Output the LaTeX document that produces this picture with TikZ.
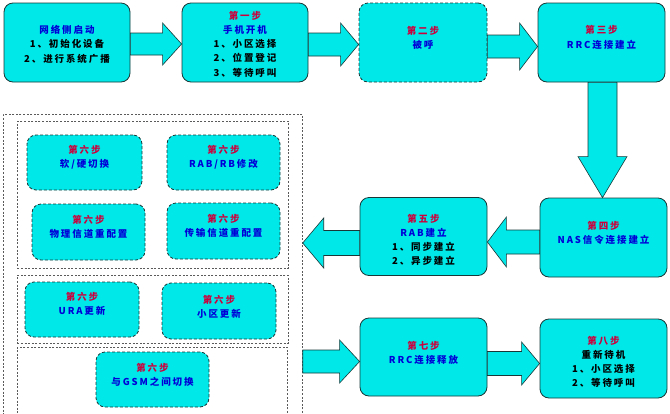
\documentclass[tikz,border=0pt]{standalone}
\usepackage{fontspec}
\usetikzlibrary{calc}
\newfontfamily\cjkf{Noto Sans CJK SC}[LetterSpace=20]
\definecolor{stepred}{RGB}{204,0,60}
\definecolor{titleblue}{RGB}{0,0,215}
\definecolor{cyanf}{RGB}{0,232,232}
\definecolor{bordc}{RGB}{25,55,55}
\definecolor{grpc}{RGB}{90,90,90}
\tikzset{
  mainbox/.style={draw=bordc, line width=0.8pt, fill=cyanf, rounded corners=9pt, inner sep=0pt},
  dashbox/.style={mainbox, dash pattern=on 3pt off 2pt},
  grpbox/.style={draw=grpc, line width=0.7pt, dash pattern=on 2pt off 1.6pt, inner sep=0pt},
  blockarrow/.style={draw=bordc, line width=0.6pt, fill=cyanf, line join=miter},
  txt/.style={align=center, font=\cjkf\bfseries\fontsize{9.5}{14.2}\selectfont, inner sep=0pt},
}
\newcommand{\rblk}[5]{%
  \draw[blockarrow] ($(#1)+(0,-#3)$) -- ($(#2)+(-#5,-#3)$) -- ($(#2)+(-#5,-#4)$) -- (#2)
    -- ($(#2)+(-#5,#4)$) -- ($(#2)+(-#5,#3)$) -- ($(#1)+(0,#3)$) -- cycle;}
\newcommand{\lblk}[5]{%
  \draw[blockarrow] ($(#1)+(0,-#3)$) -- ($(#2)+(#5,-#3)$) -- ($(#2)+(#5,-#4)$) -- (#2)
    -- ($(#2)+(#5,#4)$) -- ($(#2)+(#5,#3)$) -- ($(#1)+(0,#3)$) -- cycle;}
\newcommand{\dblk}[5]{%
  \draw[blockarrow] ($(#1)+(-#3,0)$) -- ($(#2)+(-#3,-#5)$) -- ($(#2)+(-#4,-#5)$) -- (#2)
    -- ($(#2)+(#4,-#5)$) -- ($(#2)+(#3,-#5)$) -- ($(#1)+(#3,0)$) -- cycle;}
\newcommand{\sr}[1]{\textcolor{stepred}{#1}}
\newcommand{\tb}[1]{\textcolor{titleblue}{#1}}
\begin{document}
\begin{tikzpicture}[x=1pt,y=-1pt]
\useasboundingbox[fill=white] (0,0) rectangle (670,413);

% group frames
\node[grpbox, minimum width=299pt, minimum height=320pt, anchor=north west] (grp) at (3,114) {};
\node[grpbox, minimum width=271pt, minimum height=147pt, anchor=north west] (g1) at (17,121) {};
\node[grpbox, minimum width=271pt, minimum height=68pt, anchor=north west] (g2) at (17,275) {};
\node[grpbox, minimum width=270pt, minimum height=80pt, anchor=north west] (g3) at (17,347) {};

% main boxes
\node[mainbox, minimum width=126pt, minimum height=79pt] (A) at (67,42.5) {};
\node[mainbox, minimum width=126pt, minimum height=79pt] (B) at (245,42.5) {};
\node[dashbox, minimum width=128pt, minimum height=79pt] (C) at (423,42.5) {};
\node[mainbox, minimum width=127pt, minimum height=79pt] (D) at (601.5,42.5) {};
\node[mainbox, minimum width=127pt, minimum height=79pt] (E) at (603.5,237.5) {};
\node[mainbox, minimum width=127pt, minimum height=78pt] (F) at (423.5,236.5) {};
\node[mainbox, minimum width=127pt, minimum height=78pt] (G) at (423.5,357) {};
\node[mainbox, minimum width=127pt, minimum height=79pt] (H) at (603.5,358.5) {};

% step-6 boxes
\node[dashbox, minimum width=115pt, minimum height=55pt] (s1) at (84.5,162.5) {};
\node[dashbox, minimum width=113pt, minimum height=55pt] (s2) at (223.5,162.5) {};
\node[dashbox, minimum width=113pt, minimum height=56pt] (s3) at (88.5,232) {};
\node[dashbox, minimum width=113pt, minimum height=56pt] (s4) at (223.5,231) {};
\node[dashbox, minimum width=114pt, minimum height=55pt] (s5) at (82,309.5) {};
\node[dashbox, minimum width=114pt, minimum height=56pt] (s6) at (219,311) {};
\node[dashbox, minimum width=113pt, minimum height=55pt] (s7) at (152.5,379.5) {};

% texts
\node[txt] (At) at (67,44.3) {\tb{网络侧启动}\\1、初始化设备\\2、进行系统广播};
\node[txt] (Bt) at (245,44) {\sr{第一步}\\\tb{手机开机}\\1、小区选择\\2、位置登记\\3、等待呼叫};
\node[txt] (Ct) at (423,37.5) {\sr{第二步}\\\tb{被呼}};
\node[txt] (Dt) at (601.5,37.5) {\sr{第三步}\\\tb{RRC连接建立}};
\node[txt] (Et) at (603.5,232.5) {\sr{第四步}\\\tb{NAS信令连接建立}};
\node[txt] (Ft) at (423.5,240) {\sr{第五步}\\\tb{RAB建立}\\1、同步建立\\2、异步建立};
\node[txt] (Gt) at (423.5,352.5) {\sr{第七步}\\\tb{RRC连接释放}};
\node[txt] (Ht) at (603.5,362) {\sr{第八步}\\重新待机\\1、小区选择\\2、等待呼叫};
\node[txt] (s1t) at (84.5,157) {\sr{第六步}\\\tb{软/硬切换}};
\node[txt] (s2t) at (223.5,157) {\sr{第六步}\\\tb{RAB/RB修改}};
\node[txt] (s3t) at (88.5,226.5) {\sr{第六步}\\\tb{物理信道重配置}};
\node[txt] (s4t) at (223.5,226) {\sr{第六步}\\\tb{传输信道重配置}};
\node[txt] (s5t) at (82,304) {\sr{第六步}\\\tb{URA更新}};
\node[txt] (s6t) at (219,307) {\sr{第六步}\\\tb{小区更新}};
\node[txt] (s7t) at (152.5,375) {\sr{第六步}\\\tb{与GSM之间切换}};

% block arrows
\coordinate (ab1) at ($(A.east)+(0,1.5)$); \coordinate (ab2) at (B.west |- ab1);
\rblk{ab1}{ab2}{11}{21}{19}
\coordinate (bc1) at ($(B.east)+(0,2)$); \coordinate (bc2) at (C.west |- bc1);
\rblk{bc1}{bc2}{11.5}{21.5}{18}
\coordinate (cd1) at ($(C.east)+(0,4)$); \coordinate (cd2) at (D.west |- cd1);
\rblk{cd1}{cd2}{11.5}{23.5}{18}
\coordinate (de1) at ($(D.south)+(1,0)$); \coordinate (de2) at (de1 |- E.north);
\dblk{de1}{de2}{14.5}{24.5}{41}
\coordinate (ef1) at ($(E.west)+(0,4.5)$); \coordinate (ef2) at (F.east |- ef1);
\lblk{ef1}{ef2}{12}{25}{19}
\coordinate (fg1) at ($(F.west)+(0,6.5)$); \coordinate (fg2) at (grp.east |- fg1);
\lblk{fg1}{fg2}{12.5}{25}{21}
\coordinate (gg1) at ($(G.west)+(0,4.5)$); \coordinate (gg0) at (grp.east |- gg1);
\rblk{gg0}{gg1}{11.5}{21.5}{20}
\coordinate (gh1) at ($(G.east)+(0,6.5)$); \coordinate (gh2) at (H.west |- gh1);
\rblk{gh1}{gh2}{12}{21.5}{18}
\end{tikzpicture}
\end{document}
